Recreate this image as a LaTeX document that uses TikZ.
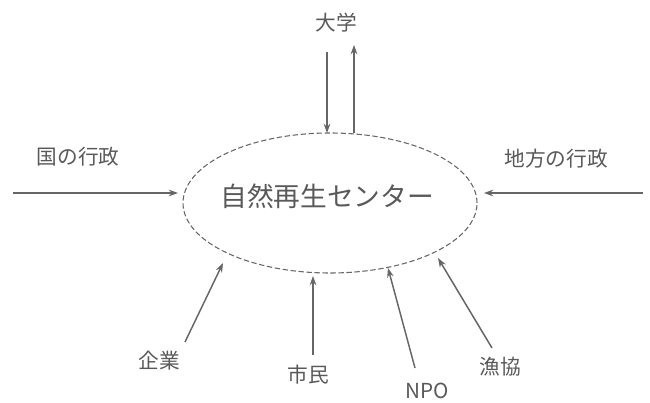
\documentclass[tikz,border=0pt]{standalone}
\usepackage{fontspec}
\setmainfont{Noto Sans CJK JP}
\usetikzlibrary{arrows.meta,shapes.geometric}
\definecolor{ink}{gray}{0.35}
\definecolor{lineink}{gray}{0.4}
\begin{document}
\begin{tikzpicture}[x=0.75pt,y=-0.75pt,
  lbl/.style={text=ink,font=\fontsize{15.5pt}{18pt}\selectfont,inner sep=0pt},
  arr/.style={draw=lineink,line width=1.1pt,-{Stealth[length=7pt,width=5pt]}}]
\useasboundingbox (0,0) rectangle (650,403);
\node[draw=lineink,dash pattern=on 4pt off 2pt,line width=0.8pt,ellipse,minimum width=294*0.75pt,minimum height=140*0.75pt,inner sep=0pt] (c) at (330,203) {};
\node[text=ink,font=\fontsize{20pt}{24pt}\selectfont,inner sep=0pt] (ct) at (327,196) {自然再生センター};
\node[lbl] (daigaku) at (336,23) {大学};
\node[lbl] (kuni) at (78,157) {国の行政};
\node[lbl] (chiho) at (556,159) {地方の行政};
\node[lbl] (kigyo) at (159,361) {企業};
\node[lbl] (shimin) at (308,375) {市民};
\node[lbl] (npo) at (427,391) {NPO};
\node[lbl] (gyokyo) at (500,367) {漁協};
\coordinate (d1s) at (327,52); \coordinate (d1e) at (327,133);
\coordinate (d2s) at (354,133); \coordinate (d2e) at (354,45);
\coordinate (ks) at (13,193); \coordinate (ke) at (178,193);
\coordinate (cs) at (643,193); \coordinate (ce) at (484,193);
\coordinate (kgs) at (185,342); \coordinate (kge) at (223,263);
\coordinate (sms) at (313,355); \coordinate (sme) at (313,276);
\coordinate (nps) at (415,368); \coordinate (npe) at (388,268);
\coordinate (gys) at (492,348); \coordinate (gye) at (438,258);
\draw[arr] (d1s) -- (d1e);
\draw[arr] (d2s) -- (d2e);
\draw[arr] (ks) -- (ke);
\draw[arr] (cs) -- (ce);
\draw[arr] (kgs) -- (kge);
\draw[arr] (sms) -- (sme);
\draw[arr] (nps) -- (npe);
\draw[arr] (gys) -- (gye);
\end{tikzpicture}
\end{document}
